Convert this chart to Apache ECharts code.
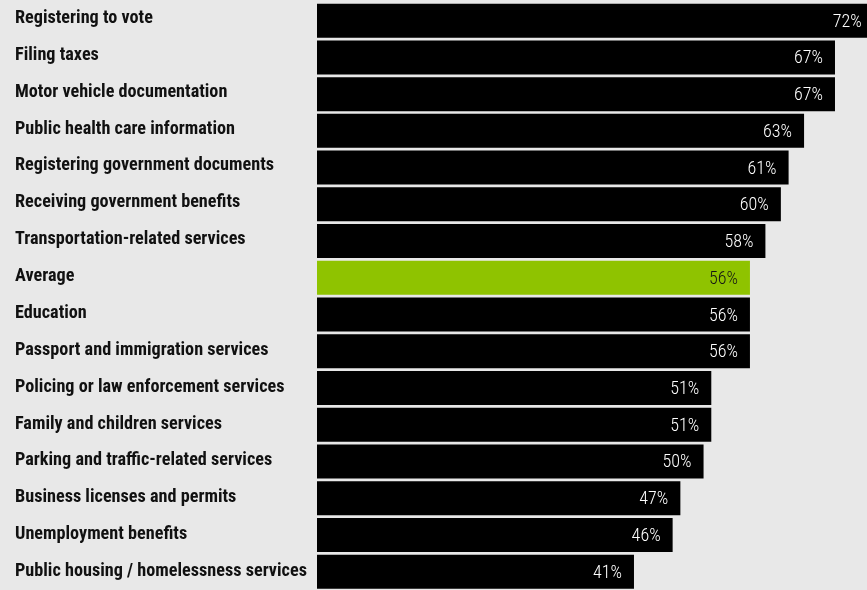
<!DOCTYPE html>
<html>
<head>
<meta charset="utf-8">
<script src="https://cdn.jsdelivr.net/npm/echarts@6/dist/echarts.min.js"></script>
<style>
  html, body { margin: 0; padding: 0; background: #e8e8e8; }
  #chart { width: 867px; height: 590px; }
</style>
</head>
<body>
<div id="chart"></div>
<script>
// Share of respondents per government service (percent)
const categories = [
  'Registering to vote',
  'Filing taxes',
  'Motor vehicle documentation',
  'Public health care information',
  'Registering government documents',
  'Receiving government benefits',
  'Transportation-related services',
  'Average',
  'Education',
  'Passport and immigration services',
  'Policing or law enforcement services',
  'Family and children services',
  'Parking and traffic-related services',
  'Business licenses and permits',
  'Unemployment benefits',
  'Public housing / homelessness services'
];
const values = [72, 67, 67, 63, 61, 60, 58, 56, 56, 56, 51, 51, 50, 47, 46, 41];
const highlight = 'Average';

const BAR = '#000000';
const GREEN = '#8fc300';
const FONT = '"Roboto Condensed", "Roboto", sans-serif';

const chart = echarts.init(document.getElementById('chart'), null, { renderer: 'canvas' });

const seriesData = values.map((v, i) => {
  const isAvg = categories[i] === highlight;
  return {
    value: v,
    itemStyle: { color: isAvg ? GREEN : BAR },
    label: { color: isAvg ? '#151515' : '#ffffff' }
  };
});

chart.setOption({
  backgroundColor: '#e8e8e8',
  animation: false,
  grid: [
    // bars
    { left: 317, right: 0, top: 2.3, height: 592, containLabel: false },
    // category names
    { left: 317, right: 0, top: -4.2, height: 598.4, containLabel: false }
  ],
  xAxis: [
    { type: 'value', gridIndex: 0, min: 0, max: 71.14, show: false },
    { type: 'value', gridIndex: 1, min: 0, max: 71.14, show: false }
  ],
  yAxis: [
    {
      type: 'category', gridIndex: 0, data: categories, inverse: true,
      axisLine: { show: false }, axisTick: { show: false }, axisLabel: { show: false }
    },
    {
      type: 'category', gridIndex: 1, data: categories, inverse: true,
      axisLine: { show: false }, axisTick: { show: false },
      axisLabel: {
        align: 'left',
        margin: 302,
        color: '#111111',
        fontFamily: FONT,
        fontWeight: 'bold',
        fontSize: 18.2
      }
    }
  ],
  series: [{
    type: 'bar',
    xAxisIndex: 0,
    yAxisIndex: 0,
    data: seriesData,
    barWidth: 34,
    clip: false,
    label: {
      show: true,
      position: 'insideRight',
      distance: 12,
      offset: [0, 1.5],
      formatter: p => p.value + '%',
      fontFamily: FONT,
      fontWeight: 300,
      fontSize: 18
    }
  }]
});
</script>
</body>
</html>
